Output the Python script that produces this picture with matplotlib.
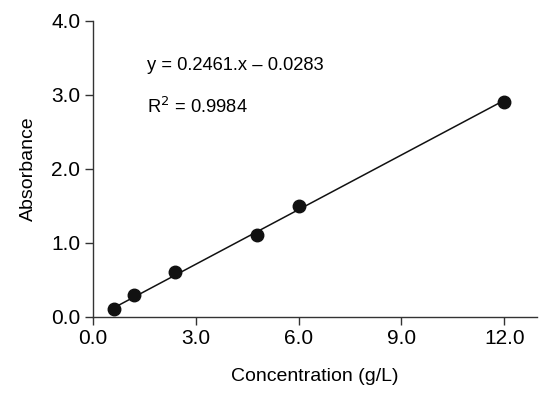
import numpy as np
import matplotlib.pyplot as plt

plt.rcParams['font.family'] = ['Liberation Sans', 'DejaVu Sans']

# data
conc = [0.6, 1.2, 2.4, 4.8, 6.0, 12.0]
absorb = [0.1, 0.3, 0.6, 1.1, 1.5, 2.9]
slope = 0.2461
intercept = -0.0283
r2 = 0.9984

xticks = [0, 3, 6, 9, 12]
yticks = [0, 1, 2, 3, 4]

fig = plt.figure(figsize=(5.5, 3.99), dpi=100)
ax = fig.add_axes([0.169, 0.206, 0.807, 0.742])

xfit = np.array([conc[0], conc[-1]])
ax.plot(xfit, slope * xfit + intercept, color='#111111', linewidth=1.1, zorder=2)
ax.plot(conc, absorb, 'o', color='#111111', markersize=9, zorder=3)

ax.set_xlim(0, 12.95)
ax.set_ylim(0, 4.0)
ax.set_xticks(xticks)
ax.set_yticks(yticks)
ax.set_xticklabels([f"{v:.1f}" for v in xticks])
ax.set_yticklabels([f"{v:.1f}" for v in yticks])

for s in ['top', 'right']:
    ax.spines[s].set_visible(False)
for s in ['left', 'bottom']:
    ax.spines[s].set_color('#333333')
    ax.spines[s].set_linewidth(1.0)
ax.tick_params(direction='out', length=6, width=1.0, color='#333333',
               labelsize=15, pad=3)

ax.set_xlabel("Concentration (g/L)", fontsize=14, labelpad=14)
ax.set_ylabel("Absorbance", fontsize=14, labelpad=10)

ax.text(1.58, 3.34, f"y = {slope:.4f}.x \u2013 {abs(intercept):.4f}", fontsize=13.2)
ax.text(1.58, 2.76, f"R$^2$ = {r2:.4f}", fontsize=13.2)

plt.savefig("out.png", dpi=100)
